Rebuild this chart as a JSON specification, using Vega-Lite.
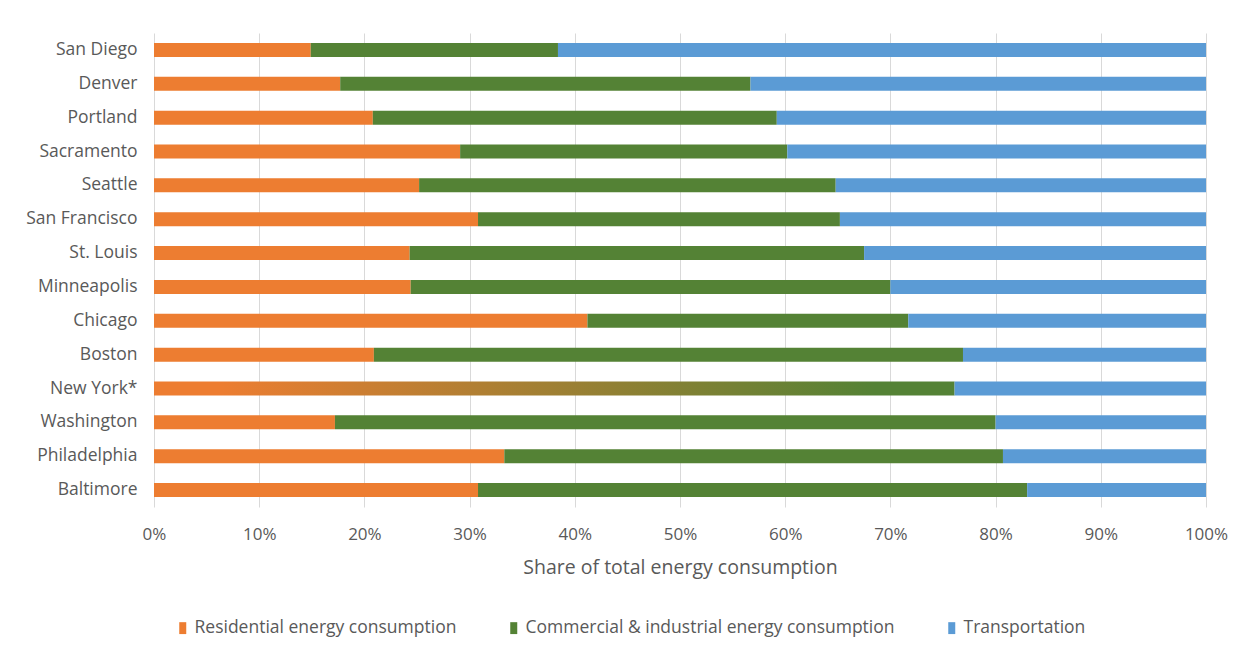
{
  "$schema": "https://vega.github.io/schema/vega-lite/v6.json",
  "width": 1052,
  "height": 474,
  "autosize": {"type": "none"},
  "padding": {"left": 154, "top": 33, "right": 42, "bottom": 149},
  "background": "white",
  "config": {
    "font": "Open Sans",
    "view": {"stroke": null},
    "axis": {"labelColor": "#595959", "titleColor": "#595959", "gridColor": "#D9D9D9", "gridWidth": 1}
  },
  "datasets": {
    "segments": [
      {"segment": "Residential energy consumption", "rank": 1},
      {"segment": "Residential & commercial (combined)", "rank": 2},
      {"segment": "Commercial & industrial energy consumption", "rank": 3},
      {"segment": "Transportation", "rank": 4}
    ]
  },
  "data": {
    "values": [
      {"city": "San Diego", "segment": "Residential energy consumption", "share": 14.9},
      {"city": "San Diego", "segment": "Commercial & industrial energy consumption", "share": 23.5},
      {"city": "San Diego", "segment": "Transportation", "share": 61.6},
      {"city": "Denver", "segment": "Residential energy consumption", "share": 17.7},
      {"city": "Denver", "segment": "Commercial & industrial energy consumption", "share": 39.0},
      {"city": "Denver", "segment": "Transportation", "share": 43.3},
      {"city": "Portland", "segment": "Residential energy consumption", "share": 20.8},
      {"city": "Portland", "segment": "Commercial & industrial energy consumption", "share": 38.4},
      {"city": "Portland", "segment": "Transportation", "share": 40.8},
      {"city": "Sacramento", "segment": "Residential energy consumption", "share": 29.1},
      {"city": "Sacramento", "segment": "Commercial & industrial energy consumption", "share": 31.1},
      {"city": "Sacramento", "segment": "Transportation", "share": 39.8},
      {"city": "Seattle", "segment": "Residential energy consumption", "share": 25.2},
      {"city": "Seattle", "segment": "Commercial & industrial energy consumption", "share": 39.6},
      {"city": "Seattle", "segment": "Transportation", "share": 35.2},
      {"city": "San Francisco", "segment": "Residential energy consumption", "share": 30.8},
      {"city": "San Francisco", "segment": "Commercial & industrial energy consumption", "share": 34.4},
      {"city": "San Francisco", "segment": "Transportation", "share": 34.8},
      {"city": "St. Louis", "segment": "Residential energy consumption", "share": 24.3},
      {"city": "St. Louis", "segment": "Commercial & industrial energy consumption", "share": 43.2},
      {"city": "St. Louis", "segment": "Transportation", "share": 32.5},
      {"city": "Minneapolis", "segment": "Residential energy consumption", "share": 24.4},
      {"city": "Minneapolis", "segment": "Commercial & industrial energy consumption", "share": 45.6},
      {"city": "Minneapolis", "segment": "Transportation", "share": 30.0},
      {"city": "Chicago", "segment": "Residential energy consumption", "share": 41.2},
      {"city": "Chicago", "segment": "Commercial & industrial energy consumption", "share": 30.5},
      {"city": "Chicago", "segment": "Transportation", "share": 28.3},
      {"city": "Boston", "segment": "Residential energy consumption", "share": 20.9},
      {"city": "Boston", "segment": "Commercial & industrial energy consumption", "share": 56.0},
      {"city": "Boston", "segment": "Transportation", "share": 23.1},
      {"city": "New York*", "segment": "Residential & commercial (combined)", "share": 76.1},
      {"city": "New York*", "segment": "Transportation", "share": 23.9},
      {"city": "Washington", "segment": "Residential energy consumption", "share": 17.2},
      {"city": "Washington", "segment": "Commercial & industrial energy consumption", "share": 62.8},
      {"city": "Washington", "segment": "Transportation", "share": 20.0},
      {"city": "Philadelphia", "segment": "Residential energy consumption", "share": 33.3},
      {"city": "Philadelphia", "segment": "Commercial & industrial energy consumption", "share": 47.4},
      {"city": "Philadelphia", "segment": "Transportation", "share": 19.3},
      {"city": "Baltimore", "segment": "Residential energy consumption", "share": 30.8},
      {"city": "Baltimore", "segment": "Commercial & industrial energy consumption", "share": 52.2},
      {"city": "Baltimore", "segment": "Transportation", "share": 17.0}
    ]
  },
  "transform": [
    {"lookup": "segment", "from": {"data": {"name": "segments"}, "key": "segment", "fields": ["rank"]}}
  ],
  "mark": {"type": "bar", "size": 14},
  "encoding": {
    "y": {
      "field": "city",
      "type": "nominal",
      "sort": ["San Diego", "Denver", "Portland", "Sacramento", "Seattle", "San Francisco", "St. Louis", "Minneapolis", "Chicago", "Boston", "New York*", "Washington", "Philadelphia", "Baltimore"],
      "scale": {"paddingInner": 0, "paddingOuter": 0},
      "axis": {"title": null, "domain": false, "ticks": false, "labelPadding": 17, "labelFontSize": 17.5, "grid": false}
    },
    "x": {
      "field": "share",
      "type": "quantitative",
      "stack": "zero",
      "scale": {"domain": [0, 100], "nice": false},
      "axis": {
        "values": [0, 10, 20, 30, 40, 50, 60, 70, 80, 90, 100],
        "labelExpr": "datum.value + '%'",
        "title": "Share of total energy consumption",
        "titleFontSize": 19.5,
        "titleFontWeight": "normal",
        "titlePadding": 16,
        "labelFontSize": 17,
        "labelPadding": 19,
        "labelFlush": false,
        "domain": false,
        "ticks": false,
        "grid": true
      }
    },
    "color": {
      "condition": {
        "test": "datum.segment === 'Residential & commercial (combined)'",
        "value": {
          "gradient": "linear",
          "x1": 0, "y1": 0, "x2": 1, "y2": 0,
          "stops": [
            {"offset": 0.08, "color": "#ED7D31"},
            {"offset": 0.9, "color": "#548235"}
          ]
        }
      },
      "field": "segment",
      "type": "nominal",
      "scale": {
        "domain": ["Residential energy consumption", "Commercial & industrial energy consumption", "Transportation"],
        "range": ["#ED7D31", "#548235", "#5B9BD5"]
      },
      "legend": {
        "orient": "none",
        "direction": "horizontal",
        "legendX": 20,
        "legendY": 586,
        "title": null,
        "padding": 0,
        "symbolType": "M-1,-1.7H1V1.7H-1Z",
        "symbolSize": 49,
        "symbolStrokeWidth": 0,
        "labelFontSize": 17.5,
        "labelColor": "#595959",
        "labelOffset": 3,
        "labelLimit": 500,
        "columnPadding": 48
      }
    },
    "order": {"field": "rank", "type": "quantitative"}
  }
}
